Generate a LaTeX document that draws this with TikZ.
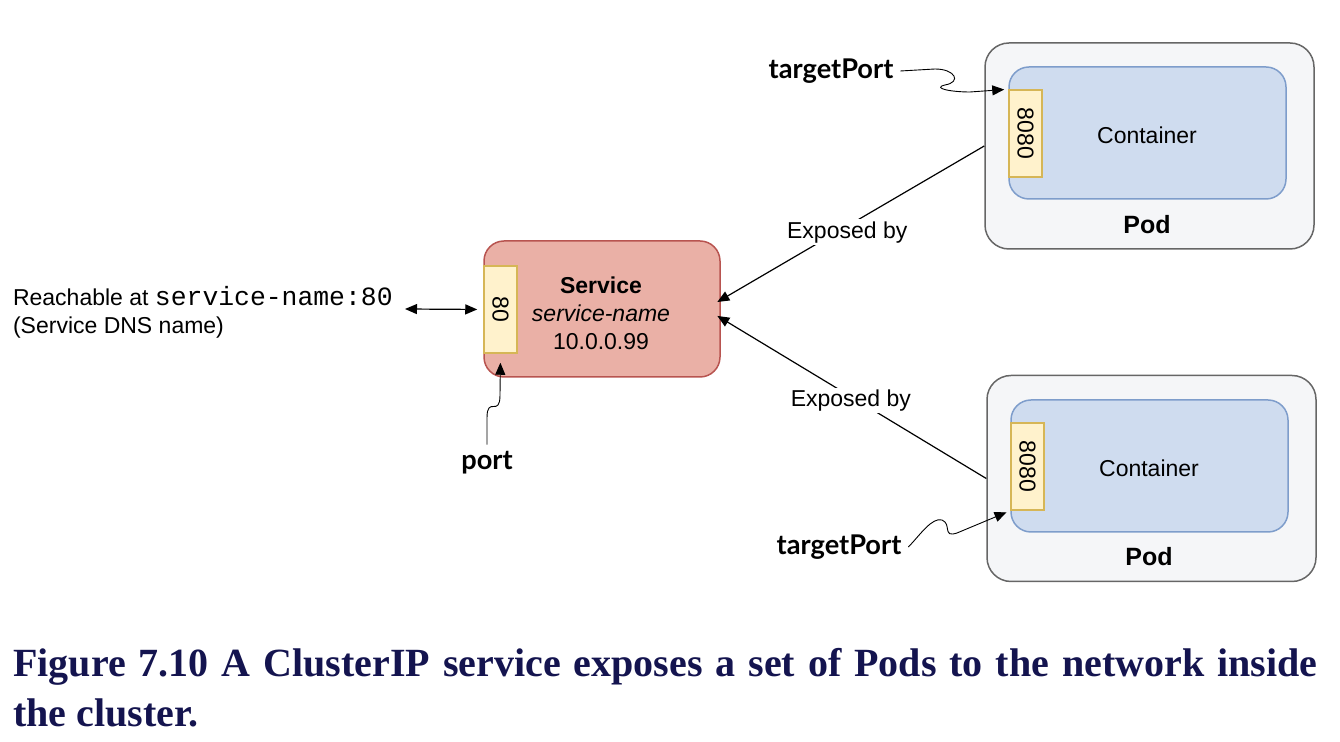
\documentclass[tikz,border=0pt]{standalone}
\usepackage{fontspec}
\setmainfont{Liberation Sans}
\setmonofont{Liberation Mono}
\newfontfamily\captionfont{Liberation Serif}
\newfontfamily\labelfont{Lato}
\usetikzlibrary{positioning,arrows.meta}
\definecolor{svcfill}{HTML}{EAB0A6}
\definecolor{svcdraw}{HTML}{B85450}
\definecolor{portfill}{HTML}{FFF2CC}
\definecolor{portdraw}{HTML}{D6B656}
\definecolor{podfill}{HTML}{F5F6F8}
\definecolor{poddraw}{HTML}{666666}
\definecolor{ctrfill}{HTML}{CFDCEF}
\definecolor{ctrdraw}{HTML}{7E9DCB}
\definecolor{capcolor}{HTML}{14144F}

\begin{document}
\begin{tikzpicture}[
    x=0.5pt, y=-0.5pt,
    >={Triangle[length=6pt,width=5pt]},
    font=\fontsize{11.5}{14}\selectfont
]

\tikzstyle{service}=[
    draw=svcdraw, fill=svcfill, line width=0.75pt,
    rounded corners=10pt, minimum width=118pt, minimum height=68pt
]
\tikzstyle{pod}=[
    draw=poddraw, fill=podfill, line width=0.75pt,
    rounded corners=12pt, minimum width=164.5pt, minimum height=103pt
]
\tikzstyle{container}=[
    draw=ctrdraw, fill=ctrfill, line width=0.75pt,
    rounded corners=10pt, minimum width=138.5pt, minimum height=66pt
]
\tikzstyle{port}=[
    draw=portdraw, fill=portfill, line width=0.75pt,
    minimum width=16.5pt, minimum height=43.5pt, inner sep=0pt
]
\tikzstyle{portnum}=[rotate=-90, inner sep=0pt]
\tikzstyle{tag}=[font=\labelfont\bfseries\fontsize{13.6}{15}\selectfont]
\tikzstyle{podname}=[font=\bfseries\fontsize{12.5}{14}\selectfont]
\tikzstyle{link}=[line width=0.6pt, ->]
\tikzstyle{pin}=[line width=0.45pt, ->]
\tikzstyle{caption}=[
    anchor=base west, inner sep=0pt, text=capcolor,
    font=\captionfont\bfseries\fontsize{20}{24}\selectfont
]

\useasboundingbox (0,0) rectangle (1340,742);

% service
\node[service] (svc) at (602,309) {};
\node[port] (p80) at (500.5,309.5) {};
\node[portnum] (p80txt) at (p80) {80};
\node[align=center] (svctxt) at (601,313) {\textbf{Service}\\\textit{service-name}\\10.0.0.99};

\node[anchor=west, align=left] (reach) at (6,312) {Reachable at {\ttfamily\fontsize{13.2}{14}\selectfont service-name:80}\\(Service DNS name)};
\coordinate (reachend) at (405,309);
\draw[link, <->, shorten >=3pt] (reachend) -- (p80.west);

\node[tag] (portlbl) at (487,463) {port};
\draw[pin, shorten >=4.5pt] (portlbl.north) -- (487,418)
    .. controls (487,395) and (500,418) .. (500,395) -- (p80.south);

% pods
\node[pod] (pod1) at (1149.5,146) {};
\node[container] (ctr1) at (1147.5,133) {};
\node[port] (p8080a) at (1025.5,133.5) {};
\node[portnum] (p8080atxt) at (p8080a) {8080};
\node (ctr1txt) at (1147,135) {Container};
\node[podname] (pod1txt) at (1147,225) {Pod};

\node[pod] (pod2) at (1151.5,478.5) {};
\node[container] (ctr2) at (1149.5,466) {};
\node[port] (p8080b) at (1027.5,466.5) {};
\node[portnum] (p8080btxt) at (p8080b) {8080};
\node (ctr2txt) at (1149,468) {Container};
\node[podname] (pod2txt) at (1149,557) {Pod};

\draw[link, shorten >=-2pt] (pod1.west) -- node[pos=0.52, yshift=-3pt, fill=white, inner sep=1pt] (exp1) {Exposed by} ([yshift=4.5pt]svc.east);
\draw[link, shorten >=-2pt] (pod2.west) -- node[pos=0.51, yshift=-2pt, fill=white, inner sep=1pt] (exp2) {Exposed by} ([yshift=-4.5pt]svc.east);

\node[tag] (tp1) at (831,71) {targetPort};
\draw[pin, shorten >=2pt] (tp1.east) -- (935,69)
    .. controls (955,69) and (962,82) .. (945,85)
    .. controls (932,88) and (950,92) .. (970,92) -- (p8080a.north west);

\node[tag] (tp2) at (839,547) {targetPort};
\draw[pin, shorten >=2pt] (tp2.east)
    .. controls (920,535) and (932,517) .. (942,520)
    .. controls (952,524) and (942,538) .. (957,533) -- (p8080b.south west);

% caption
\node[caption] (cap1) at (13,677) {\makebox[652pt][s]{Figure 7.10 A ClusterIP service exposes a set of Pods to the network inside}};
\node[caption] (cap2) at (13,727) {the cluster.};

\end{tikzpicture}
\end{document}
